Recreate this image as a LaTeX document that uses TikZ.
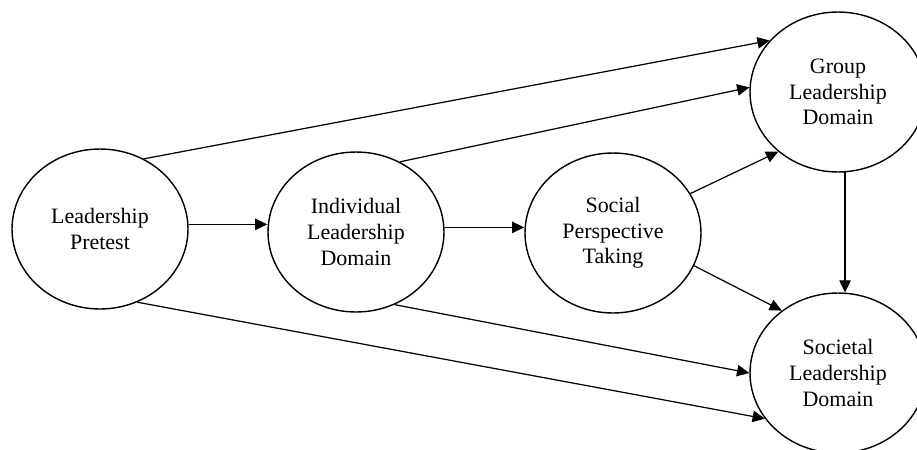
\documentclass[tikz,border=0pt]{standalone}
\usepackage{fontspec}
\setmainfont{Liberation Serif}
\usetikzlibrary{arrows.meta,shapes.geometric}
\begin{document}
\begin{tikzpicture}[x=0.02cm,y=-0.02cm,
  var/.style={draw, ellipse, line width=0.8pt, minimum width=3.52cm, minimum height=3.2cm,
              inner sep=0pt, align=center, font=\fontsize{12.5}{14.6}\selectfont},
  arr/.style={line width=0.7pt, -{Triangle[length=7pt,width=6.5pt]}}]
\useasboundingbox (0,0) rectangle (917,450);
\node[var] (pre) at (100,229) {Leadership\\Pretest};
\node[var] (ind) at (356,232) {Individual\\Leadership\\Domain};
\node[var] (spt) at (613,233) {Social\\Perspective\\Taking};
\node[var] (grp) at (838,92) {Group\\Leadership\\Domain};
\node[var] (soc) at (838,373) {Societal\\Leadership\\Domain};
\draw[arr] (pre.3) -- (pre.3 -| ind.west);
\draw[arr] (ind.3) -- (ind.3 -| spt.west);
\draw[arr] (pre.58) -- (grp.143);
\draw[arr] (ind.58) -- (grp.177);
\draw[arr] (spt.27) -- (grp.225);
\draw[arr] (spt.-22) -- (soc.132);
\draw[arr] (ind.-62) -- (soc.180);
\draw[arr] (pre.-63) -- (soc.212);
\draw[arr] (grp.-85) -- (soc.85);
\end{tikzpicture}
\end{document}
